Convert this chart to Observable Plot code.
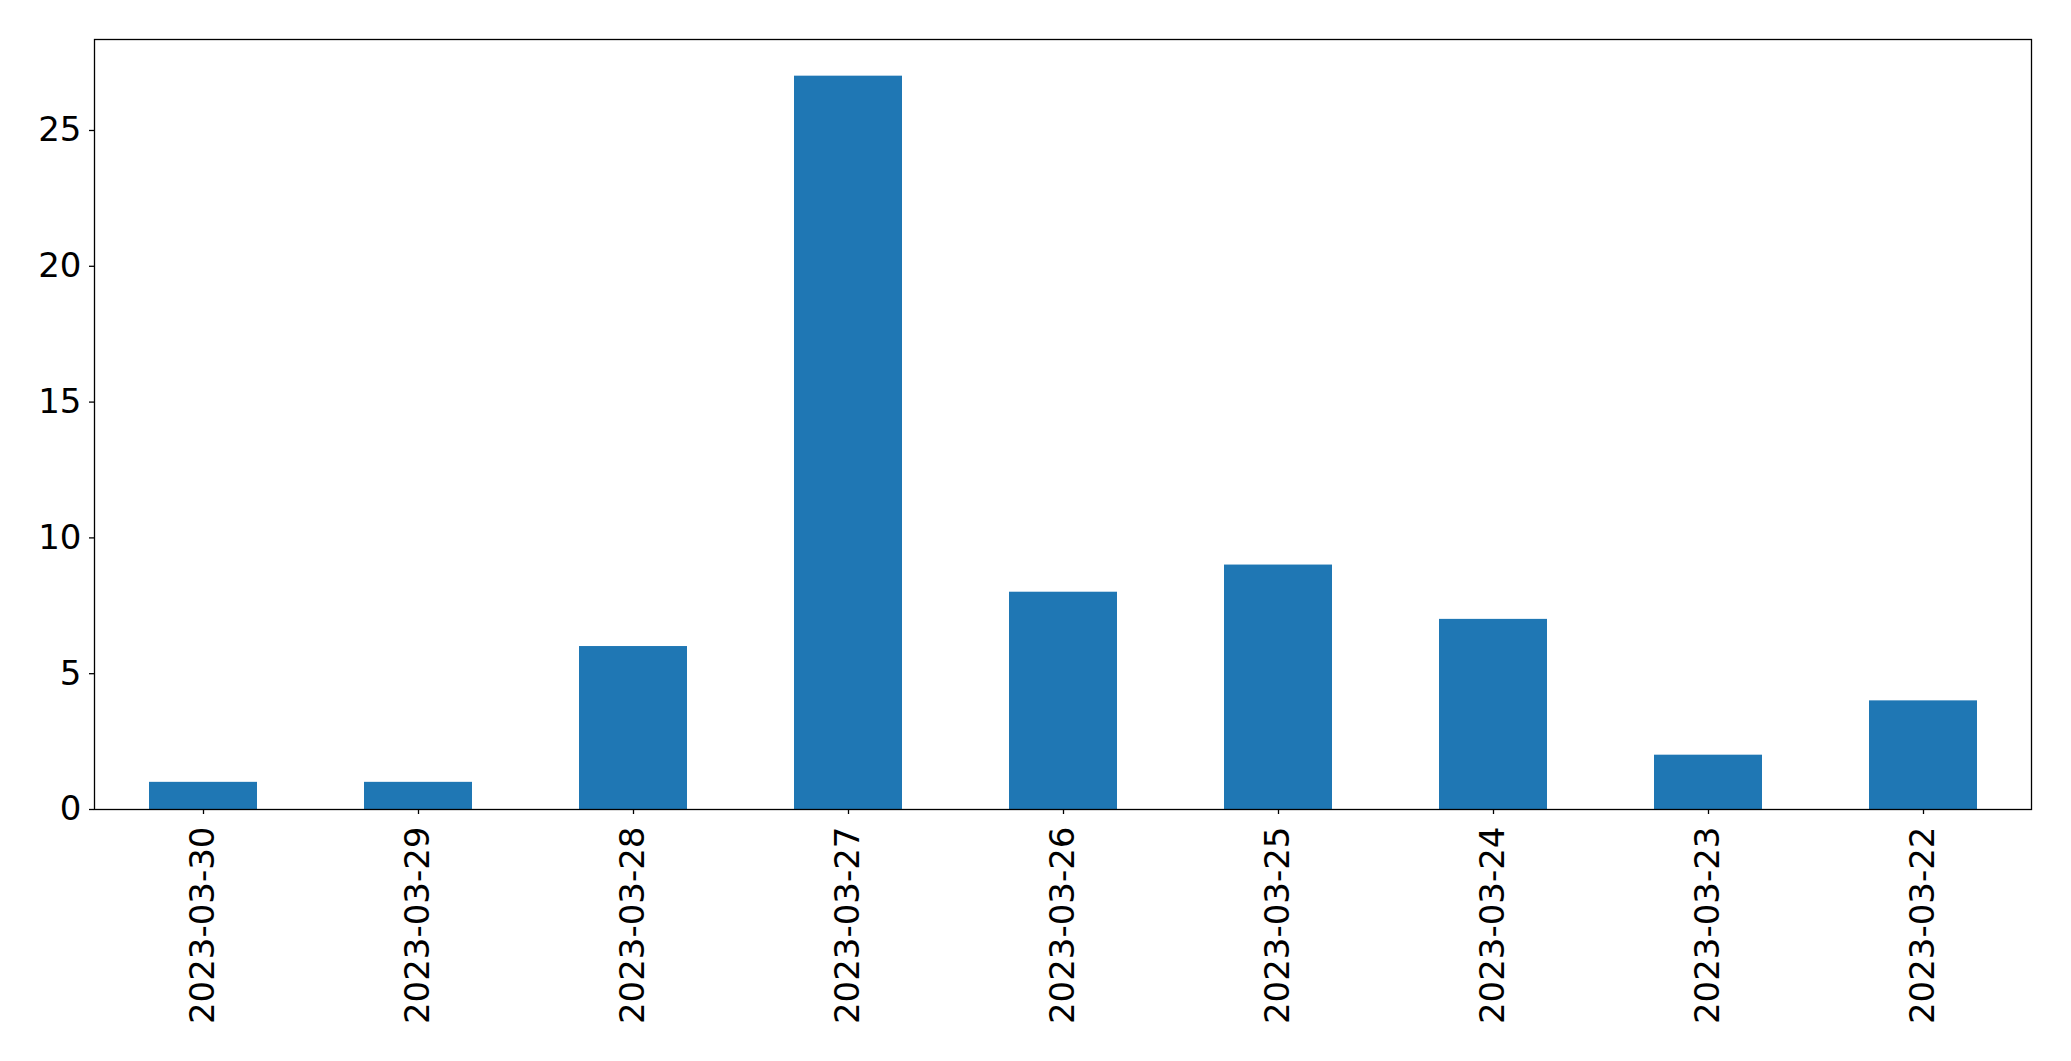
<!DOCTYPE html>
<html>
<head>
<meta charset="utf-8">
<script src="https://cdn.jsdelivr.net/npm/d3@7"></script>
<script src="https://cdn.jsdelivr.net/npm/@observablehq/plot@0.6"></script>
<style>
  html, body { margin: 0; padding: 0; background: #fff; }
  #chart svg { display: block; }
</style>
</head>
<body>
<div id="chart"></div>
<script>
const dates = ["2023-03-30", "2023-03-29", "2023-03-28", "2023-03-27", "2023-03-26", "2023-03-25", "2023-03-24", "2023-03-23", "2023-03-22"];
const counts = [1, 1, 6, 27, 8, 9, 7, 2, 4];
const yTicks = [0, 5, 10, 15, 20, 25];

const data = dates.map((d, i) => ({date: d, count: counts[i]}));

const chart = Plot.plot({
  width: 2071,
  height: 1061,
  marginLeft: 94,
  marginRight: 40,
  marginTop: 39,
  marginBottom: 252,
  style: {fontFamily: "DejaVu Sans", fontSize: "34px", background: "#fff", color: "#000"},
  x: {type: "band", domain: dates, paddingInner: 0.5, paddingOuter: 0.25, align: 0.5, label: null},
  y: {domain: [0, 28.35], label: null},
  marks: [
    Plot.barY(data, {x: "date", y: "count", fill: "#1f77b4"}),
    Plot.frame({stroke: "#000", strokeWidth: 1.3}),
    Plot.axisY({ticks: yTicks, tickSize: 5, tickPadding: 8, tickFormat: d => String(d), label: null, fontSize: 34, strokeWidth: 1.3}),
    Plot.axisX({tickSize: 5, tickRotate: -90, tickPadding: 12, textAnchor: "end", lineAnchor: "middle", label: null, fontSize: 34, strokeWidth: 1.3})
  ]
});
document.getElementById("chart").appendChild(chart);
</script>
</body>
</html>
